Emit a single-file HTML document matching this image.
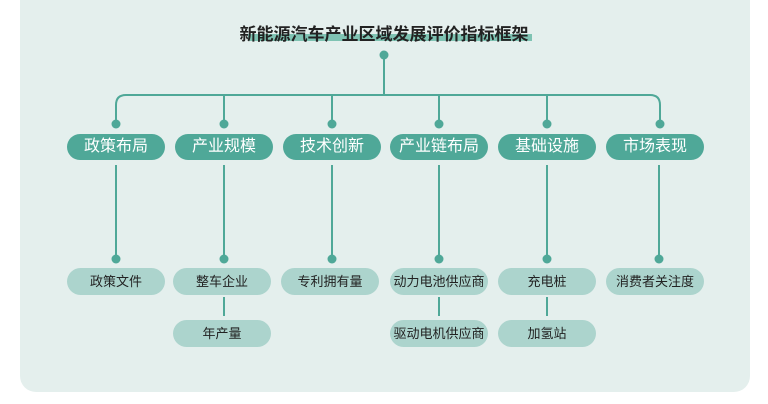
<!DOCTYPE html>
<html><head><meta charset="utf-8"><style>
body{margin:0;width:768px;height:404px;background:#fff;position:relative;overflow:hidden;font-family:"Liberation Sans","Noto Sans CJK SC",sans-serif}
.panel{position:absolute;left:20px;top:-20px;width:730px;height:412px;background:#e4efed;border-radius:16px}
.t{position:absolute;left:0;width:768px;top:20px;text-align:center;font-size:17px;color:#222;font-weight:bold}
.hl{position:absolute;left:248px;top:34px;width:284px;height:7px;background:#7fc3b3}
.p1{position:absolute;width:98px;height:26px;border-radius:13px;background:#4fa898;color:#fff;font-size:16px;line-height:26px;text-align:center}
.p2{position:absolute;width:98px;height:27px;border-radius:14px;background:#acd4cd;color:#222;font-size:13px;line-height:27px;text-align:center}
</style></head><body>
<div class="panel"></div>
<div class="hl"></div>
<div class="t">新能源汽车产业区域发展评价指标框架</div>
<svg width="768" height="404" style="position:absolute;left:0;top:0">
<g stroke="#4fa898" stroke-width="2" fill="none">
<line x1="384" y1="55" x2="384" y2="95"/>
<path d="M116 124 V105 Q116 95 126 95 H650 Q660 95 660 105 V124"/>
<line x1="224" y1="95" x2="224" y2="124"/><line x1="332" y1="95" x2="332" y2="124"/>
<line x1="439" y1="95" x2="439" y2="124"/><line x1="547" y1="95" x2="547" y2="124"/>
<line x1="116" y1="165" x2="116" y2="259"/><line x1="224" y1="165" x2="224" y2="259"/>
<line x1="332" y1="165" x2="332" y2="259"/><line x1="439" y1="165" x2="439" y2="259"/>
<line x1="547" y1="165" x2="547" y2="259"/><line x1="659" y1="165" x2="659" y2="259"/>
<line x1="224" y1="297" x2="224" y2="316"/><line x1="439" y1="297" x2="439" y2="316"/><line x1="547" y1="297" x2="547" y2="316"/>
</g>
<g fill="#4fa898">
<circle cx="384" cy="55" r="4.5"/>
<circle cx="116" cy="124" r="4.5"/><circle cx="224" cy="124" r="4.5"/><circle cx="332" cy="124" r="4.5"/><circle cx="439" cy="124" r="4.5"/><circle cx="547" cy="124" r="4.5"/><circle cx="660" cy="124" r="4.5"/>
<circle cx="116" cy="259" r="4.5"/><circle cx="224" cy="259" r="4.5"/><circle cx="332" cy="259" r="4.5"/><circle cx="439" cy="259" r="4.5"/><circle cx="547" cy="259" r="4.5"/><circle cx="659" cy="259" r="4.5"/>
</g></svg>
<div class="p1" style="left:67px;top:134px">政策布局</div>
<div class="p1" style="left:175px;top:134px">产业规模</div>
<div class="p1" style="left:283px;top:134px">技术创新</div>
<div class="p1" style="left:390px;top:134px">产业链布局</div>
<div class="p1" style="left:498px;top:134px">基础设施</div>
<div class="p1" style="left:606px;top:134px">市场表现</div>
<div class="p2" style="left:67px;top:268px">政策文件</div>
<div class="p2" style="left:173px;top:268px">整车企业</div>
<div class="p2" style="left:281px;top:268px">专利拥有量</div>
<div class="p2" style="left:390px;top:268px">动力电池供应商</div>
<div class="p2" style="left:498px;top:268px">充电桩</div>
<div class="p2" style="left:606px;top:268px">消费者关注度</div>
<div class="p2" style="left:173px;top:320px">年产量</div>
<div class="p2" style="left:390px;top:320px">驱动电机供应商</div>
<div class="p2" style="left:498px;top:320px">加氢站</div>
</body></html>
